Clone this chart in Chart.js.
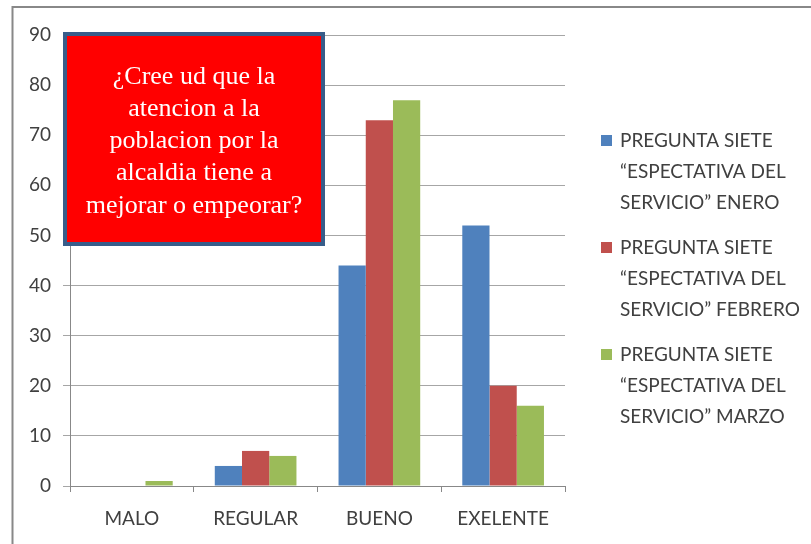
<!DOCTYPE html>
<html>
<head>
<meta charset="utf-8">
<script src="https://cdn.jsdelivr.net/npm/chart.js@4/dist/chart.umd.min.js"></script>
<style>
  html, body { margin: 0; padding: 0; background: #fff; }
  #wrap { width: 811px; height: 544px; position: relative; }
</style>
</head>
<body>
<div id="wrap"><canvas id="chart"></canvas></div>
<script>
// categorias y series
const categories = ['MALO', 'REGULAR', 'BUENO', 'EXELENTE'];
const enero   = [0, 4, 44, 52];
const febrero = [0, 7, 73, 20];
const marzo   = [1, 6, 77, 16];
const yTicks  = [0, 10, 20, 30, 40, 50, 60, 70, 80, 90];

const seriesNames = [
    ['PREGUNTA SIETE', '\u201CESPECTATIVA DEL', 'SERVICIO\u201D ENERO'],
    ['PREGUNTA SIETE', '\u201CESPECTATIVA DEL', 'SERVICIO\u201D FEBRERO'],
    ['PREGUNTA SIETE', '\u201CESPECTATIVA DEL', 'SERVICIO\u201D MARZO']
];
const titleLines = ['\u00BFCree ud que la', 'atencion a la', 'poblacion por la', 'alcaldia tiene a', 'mejorar o empeorar?'];

const COLORS = ['#4F81BD', '#C0504D', '#9BBB59'];
const TEXT = '#404040';
const LABEL_FONT = 'Lato, "Open Sans", sans-serif';

// marco, cuadro rojo y leyenda
const decor = {
    id: 'decor',
    beforeDraw(chart) {
        const c = chart.ctx;
        c.save();
        c.fillStyle = '#fff';
        c.fillRect(0, 0, chart.width, chart.height);
        c.strokeStyle = '#888';
        c.lineWidth = 2;
        c.beginPath();
        c.moveTo(12.5, chart.height);
        c.lineTo(12.5, 7);
        c.lineTo(chart.width, 7);
        c.stroke();
        c.restore();
    },
    afterDraw(chart) {
        const c = chart.ctx;
        c.save();
        // cuadro con la pregunta
        c.fillStyle = '#FF0000';
        c.fillRect(65, 34, 258, 210);
        c.strokeStyle = '#385D8A';
        c.lineWidth = 4;
        c.strokeRect(65, 34, 258, 210);
        c.fillStyle = '#fff';
        c.font = '26px "Liberation Serif", "DejaVu Serif", serif';
        c.textAlign = 'center';
        c.textBaseline = 'middle';
        titleLines.forEach((t, i) => c.fillText(t, 194, 77 + i * 32.2));

        // leyenda
        c.font = '19px ' + LABEL_FONT;
        c.textAlign = 'left';
        chart.data.datasets.forEach((ds, i) => {
            const y0 = 141 + i * 107;
            c.fillStyle = ds.backgroundColor;
            c.fillRect(601, y0 - 6, 11, 11);
            c.fillStyle = TEXT;
            seriesNames[i].forEach((line, j) => c.fillText(line, 620, y0 + j * 31));
        });
        c.restore();
    }
};

new Chart(document.getElementById('chart'), {
    type: 'bar',
    data: {
        labels: categories,
        datasets: [
            { label: seriesNames[0].join(' '), data: enero,   backgroundColor: COLORS[0] },
            { label: seriesNames[1].join(' '), data: febrero, backgroundColor: COLORS[1] },
            { label: seriesNames[2].join(' '), data: marzo,   backgroundColor: COLORS[2] }
        ]
    },
    options: {
        responsive: true,
        maintainAspectRatio: false,
        animation: false,
        layout: { padding: { top: 35, right: 246, left: 0, bottom: 0 } },
        datasets: { bar: { categoryPercentage: 0.66, barPercentage: 1.0 } },
        plugins: {
            legend: { display: false },
            tooltip: { enabled: false }
        },
        scales: {
            x: {
                grid: { drawOnChartArea: false, tickLength: 6, color: '#888', offset: true },
                border: { color: '#888', width: 1 },
                ticks: { color: TEXT, font: { family: LABEL_FONT, size: 19 }, padding: 15 },
                afterFit(scale) { scale.height = 58; }
            },
            y: {
                min: 0,
                max: 90,
                afterBuildTicks(scale) { scale.ticks = yTicks.map(v => ({ value: v })); },
                grid: { color: '#A6A6A6', tickLength: 7 },
                border: { color: '#888', width: 1 },
                ticks: { color: TEXT, font: { family: LABEL_FONT, size: 19 }, padding: 12 },
                afterFit(scale) { scale.width = 70; }
            }
        }
    },
    plugins: [decor]
});
</script>
</body>
</html>
